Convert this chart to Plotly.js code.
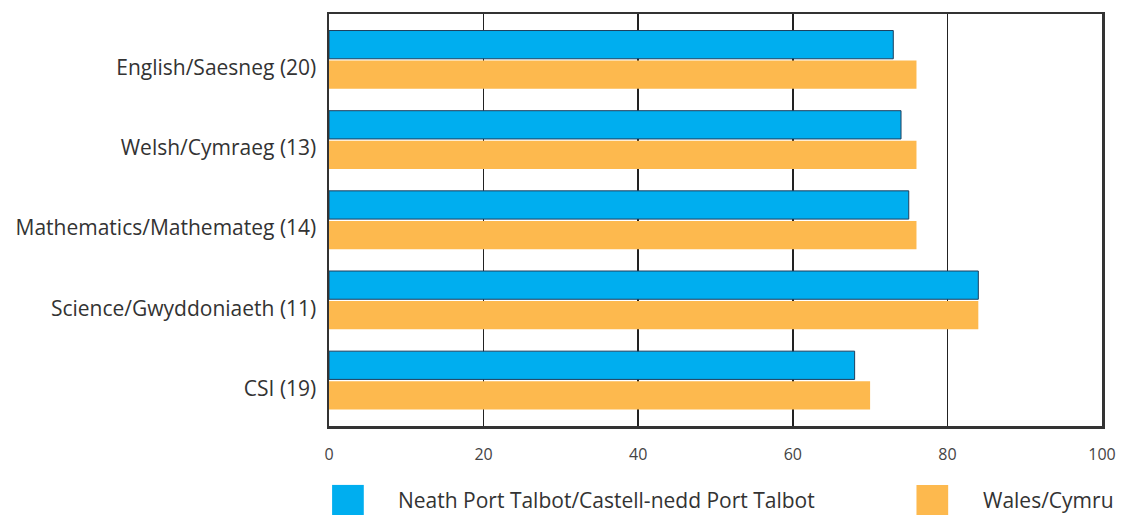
<!DOCTYPE html>
<html><head><meta charset="utf-8">
<script src="https://cdn.plot.ly/plotly-3.0.1.min.js"></script>
<style>body{margin:0;background:#fff}#c{width:1124px;height:515px}</style>
</head><body><div id="c"></div>
<script>
const categories = ["English/Saesneg (20)", "Welsh/Cymraeg (13)", "Mathematics/Mathemateg (14)", "Science/Gwyddoniaeth (11)", "CSI (19)"];
const seriesNames = ["Neath Port Talbot/Castell-nedd Port Talbot", "Wales/Cymru"];
const nptValues = [73, 74, 75, 84, 68];
const walesValues = [76, 76, 76, 84, 70];
const xTicks = [0, 20, 40, 60, 80, 100];

const fontFam = "'Open Sans', Lato, sans-serif";
const traces = [
  {type:'bar', orientation:'h', name:seriesNames[0], y:categories, x:nptValues,
   marker:{color:'#00AEEF', line:{color:'#1d3f5e', width:1}}, showlegend:false, hoverinfo:'x'},
  {type:'bar', orientation:'h', name:seriesNames[1], y:categories, x:walesValues,
   marker:{color:'#FDB94E', line:{color:'#FDB94E', width:0}}, showlegend:false, hoverinfo:'x'}
];
const layout = {
  width:1124, height:515,
  margin:{l:329, r:22, t:14, b:89},
  paper_bgcolor:'#fff', plot_bgcolor:'#fff',
  barmode:'group', bargap:0.25, bargroupgap:0.06,
  font:{family:fontFam, color:'#333'},
  xaxis:{range:[0,100], tickvals:xTicks, ticktext:xTicks.map(String), showgrid:true,
    gridcolor:'#222', gridwidth:1.5, zeroline:false, showline:true, linecolor:'#333', linewidth:2.5,
    mirror:true, ticks:'', ticklabelstandoff:12, tickfont:{size:16, color:'#444', family:fontFam}},
  yaxis:{type:'category', categoryorder:'array', categoryarray:categories, range:[4.57,-0.57],
    showgrid:false, zeroline:false, showline:true, linecolor:'#333', linewidth:2.5, mirror:true,
    ticks:'', ticklabelstandoff:6, ticklabelshift:-8, tickfont:{size:21, color:'#333', family:fontFam}},
  shapes:[
    {type:'rect', xref:'paper', yref:'paper', x0:0.004, x1:0.045, y0:-0.216, y1:-0.143, fillcolor:'#00AEEF', line:{width:0}},
    {type:'rect', xref:'paper', yref:'paper', x0:0.76, x1:0.801, y0:-0.216, y1:-0.143, fillcolor:'#FDB94E', line:{width:0}}
  ],
  annotations:[
    {xref:'paper', yref:'paper', x:0.087, y:-0.18, xanchor:'left', yanchor:'middle', showarrow:false,
     text:seriesNames[0], font:{size:21, color:'#333', family:fontFam}},
    {xref:'paper', yref:'paper', x:0.843, y:-0.18, xanchor:'left', yanchor:'middle', showarrow:false,
     text:seriesNames[1], font:{size:21, color:'#333', family:fontFam}}
  ]
};
Plotly.newPlot('c', traces, layout, {displayModeBar:false, staticPlot:true});
</script></body></html>
